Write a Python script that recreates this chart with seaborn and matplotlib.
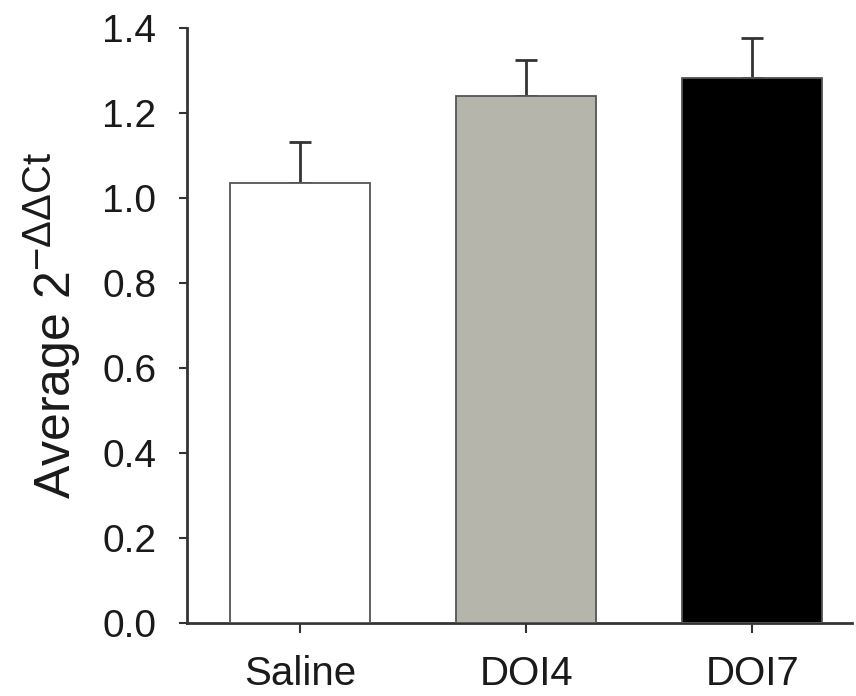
import matplotlib
matplotlib.use("Agg")
import matplotlib.pyplot as plt
import matplotlib._mathtext as _mt
import seaborn as sns
import pandas as pd

categories = ["Saline", "DOI4", "DOI7"]
means = [1.035, 1.240, 1.282]
errors = [0.097, 0.085, 0.094]
bar_colors = ["#ffffff", "#b6b6aa", "#000000"]
yticks = [0.0, 0.2, 0.4, 0.6, 0.8, 1.0, 1.2, 1.4]

sns.set_theme(style="ticks")
plt.rcParams["font.family"] = ["Liberation Sans", "DejaVu Sans"]
plt.rcParams["mathtext.fontset"] = "custom"
plt.rcParams["mathtext.rm"] = "Liberation Sans"
plt.rcParams["mathtext.it"] = "Liberation Sans"
plt.rcParams["mathtext.default"] = "rm"
_mt.SHRINK_FACTOR = 0.8

df = pd.DataFrame({"group": categories, "value": means})

fig = plt.figure(figsize=(8.56, 6.96), dpi=100)
ax = fig.add_axes([0.2185, 0.105, 0.7765, 0.855])

sns.barplot(data=df, x="group", y="value", hue="group", palette=bar_colors,
            order=categories, hue_order=categories, width=0.62, legend=False,
            edgecolor="#555555", linewidth=1.3, ax=ax, errorbar=None, zorder=3)

ax.errorbar(range(len(categories)), means, yerr=[[0] * len(errors), errors],
            fmt="none", ecolor="#333333", elinewidth=2.0, capsize=8, capthick=2.0,
            zorder=2)

ax.set_xlim(-0.5, 2.44)
ax.set_ylim(0, 1.4)
ax.set_yticks(yticks)
ax.set_yticklabels([f"{t:.1f}" for t in yticks])
ax.set_xlabel("")
ax.set_ylabel("Average 2$^{-\\Delta\\Delta Ct}$", fontsize=36, labelpad=14,
              color="#1a1a1a")

for side in ["top", "right"]:
    ax.spines[side].set_visible(False)
for side in ["left", "bottom"]:
    ax.spines[side].set_color("#333333")
    ax.spines[side].set_linewidth(2.0)

ax.tick_params(axis="y", direction="out", length=6, width=1.5, colors="#333333",
               labelsize=28, pad=16, labelcolor="#1a1a1a")
ax.tick_params(axis="x", direction="out", length=7, width=1.5, colors="#333333",
               labelsize=29, pad=16, labelcolor="#1a1a1a")

fig.savefig("out.png", dpi=100, facecolor="white")
